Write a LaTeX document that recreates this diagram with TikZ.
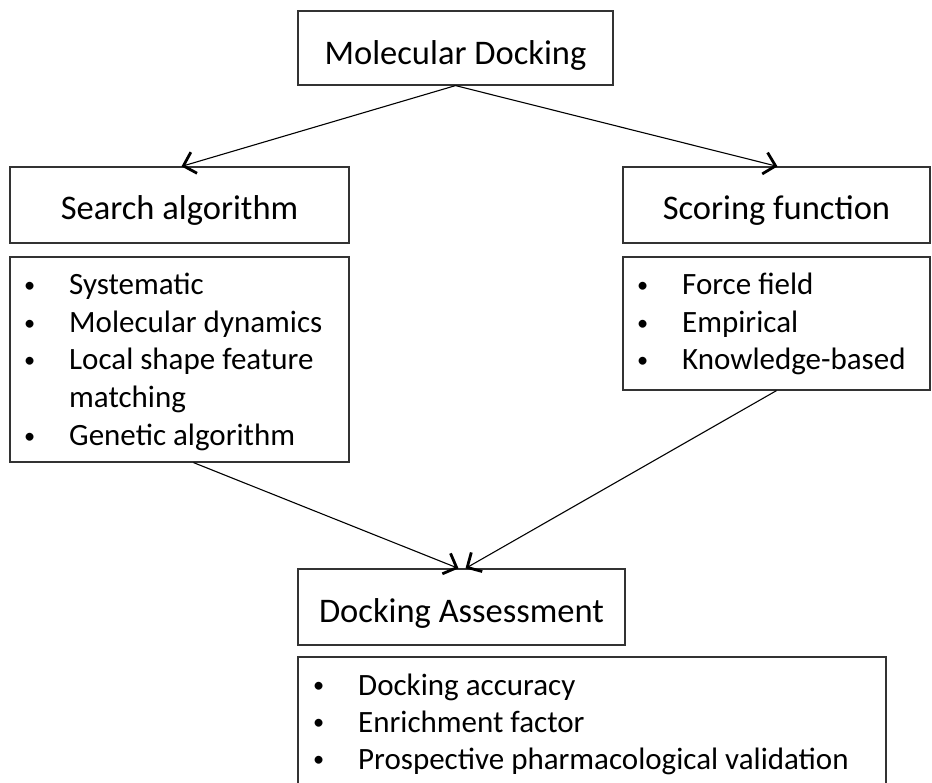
\documentclass[tikz,border=0pt]{standalone}
\usepackage{fontspec}
\setmainfont{Carlito}
\usetikzlibrary{arrows.meta,calc}
\newcommand\bul{\llap{\raisebox{2.5pt}{\scalebox{0.72}{\textbullet}}\hspace*{34pt}}}
\begin{document}
\begin{tikzpicture}[x=1pt,y=-1pt,
  box/.style={draw=black!80, line width=1.2pt, inner sep=0pt},
  head/.style={font=\fontsize{34.5}{40}\selectfont, anchor=base, inner sep=0pt},
  item/.style={font=\fontsize{31}{37}\selectfont, anchor=base west, inner sep=0pt},
  arr/.style={line width=1.1pt, -{Straight Barb[length=11pt,width=22pt,line width=2.8pt]}}]
\useasboundingbox (0,0) rectangle (932,783);
\clip (0,0) rectangle (932,783);
% header boxes
\node[box, minimum width=315pt, minimum height=74pt] (md) at (455.5,48) {};
\node[head] (mdt) at (455.5,65) {Molecular Docking};
\node[box, minimum width=339pt, minimum height=76pt] (sa) at (179.5,205) {};
\node[head] (sat) at (179.5,220) {Search algorithm};
\node[box, minimum width=307pt, minimum height=76pt] (sf) at (776.5,205) {};
\node[head] (sft) at (776.5,220) {Scoring function};
\node[box, minimum width=327pt, minimum height=76pt] (da) at (461.5,607) {};
\node[head] (dat) at (461.5,622) {Docking Assessment};
% list boxes
\node[box, minimum width=339pt, minimum height=205pt] (sal) at (179.5,359.5) {};
\node[item] (sa1) at (69,295) {\bul Systematic};
\node[item] (sa2) at (69,333) {\bul Molecular dynamics};
\node[item] (sa3) at (69,370) {\bul Local shape feature};
\node[item] (sa4) at (69,408) {matching};
\node[item] (sa5) at (69,446) {\bul Genetic algorithm};
\node[box, minimum width=307pt, minimum height=133pt] (sfl) at (776.5,323.5) {};
\node[item] (sf1) at (682,295) {\bul Force field};
\node[item] (sf2) at (682,333) {\bul Empirical};
\node[item] (sf3) at (682,370) {\bul Knowledge-based};
\node[box, minimum width=588pt, minimum height=160pt] (dal) at (592,737) {};
\node[item] (da1) at (358,695) {\bul Docking accuracy};
\node[item] (da2) at (358,732) {\bul Enrichment factor};
\node[item] (da3) at (358,769) {\bul Prospective pharmacological validation};
% connectors
\draw[arr] (md.south) -- ($(sa.north)+(2,0)$);
\draw[arr] (md.south) -- ($(sf.north)+(1,0)$);
\draw[arr] ($(sal.south)+(14,0)$) -- ($(da.north)+(-3,0)$);
\draw[arr] (sfl.south) -- ($(da.north)+(4,0)$);
\end{tikzpicture}
\end{document}
